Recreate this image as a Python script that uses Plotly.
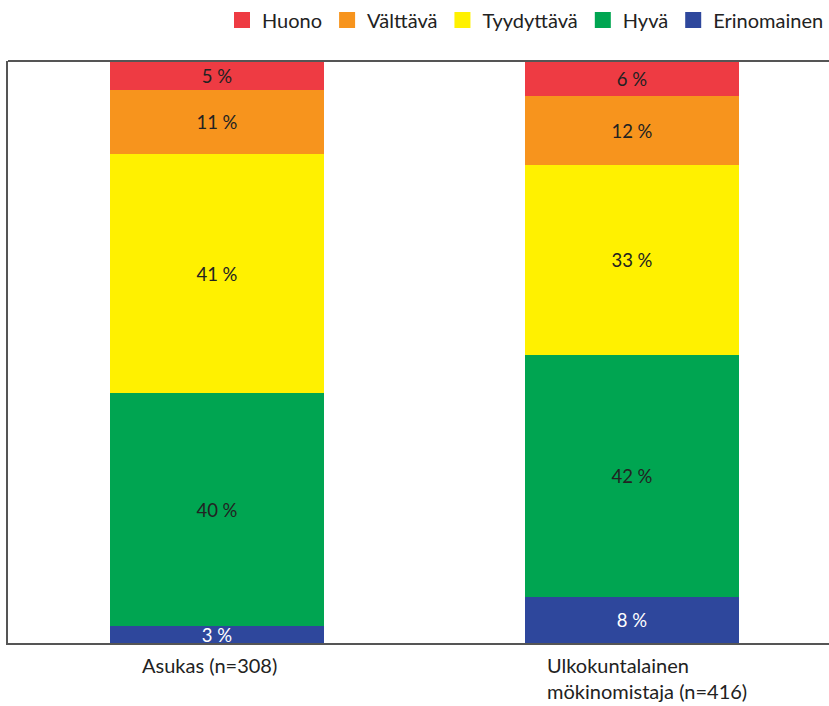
import plotly.graph_objects as go

categories = ["Asukas (n=308)", "Ulkokuntalainen<br>mökinomistaja (n=416)"]
series_names = ["Erinomainen", "Hyvä", "Tyydyttävä", "Välttävä", "Huono"]
erinomainen = [3, 8]
hyva = [40, 42]
tyydyttava = [41, 33]
valttava = [11, 12]
huono = [5, 6]
series_values = [erinomainen, hyva, tyydyttava, valttava, huono]
colors = ["#2E479C", "#00A551", "#FFF100", "#F7941D", "#EE3B43"]
text_colors = ["#FFFFFF", "#222222", "#222222", "#222222", "#222222"]

FONT = "Lato"

fig = go.Figure()
for name, vals, col, tcol in zip(series_names, series_values, colors, text_colors):
    fig.add_trace(go.Bar(
        name=name,
        x=[0, 1],
        y=vals,
        marker=dict(color=col, line=dict(width=0)),
        width=0.515,
        text=[f"{v} %" for v in vals],
        textposition="inside",
        insidetextanchor="middle",
        textangle=0,
        textfont=dict(family=FONT, size=18.5, color=tcol),
        hoverinfo="skip",
        showlegend=False,
    ))

# legend-only entries with larger square swatches
for name, col in zip(series_names, colors):
    fig.add_trace(go.Scatter(
        name=name, x=[None], y=[None], mode="markers",
        marker=dict(symbol="square", size=16, color=col, line=dict(width=0)),
        showlegend=True, hoverinfo="skip",
    ))

fig.update_layout(
    width=829, height=706,
    barmode="stack",
    barnorm="percent",
    bargap=0,
    uniformtext=dict(minsize=18, mode="show"),
    plot_bgcolor="white",
    paper_bgcolor="white",
    margin=dict(l=8, r=0, t=61, b=63, autoexpand=False),
    font=dict(family=FONT, size=16, color="#222222"),
    showlegend=True,
    legend=dict(
        orientation="h",
        traceorder="reversed",
        x=1.0, xanchor="right",
        y=1.104, yanchor="top",
        font=dict(family=FONT, size=20, color="#222222"),
        itemwidth=30,
        itemsizing="trace",
        tracegroupgap=0,
    ),
    xaxis=dict(
        range=[-0.503, 1.473],
        showticklabels=False,
        showgrid=False,
        zeroline=False,
        showline=True,
        linecolor="#555555",
        linewidth=2,
        ticks="",
        fixedrange=True,
    ),
    yaxis=dict(
        range=[0, 100],
        showticklabels=False,
        showgrid=False,
        zeroline=False,
        showline=True,
        linecolor="#555555",
        linewidth=2,
        ticks="",
    ),
)

# top border line (plot frame continues off the right edge)
fig.add_shape(type="line", xref="paper", yref="paper", x0=0, x1=1.05, y0=1, y1=1,
              line=dict(color="#555555", width=2))

# category labels (left-aligned multi-line as in reference)
fig.add_annotation(x=0, y=0, xref="x", yref="paper", yanchor="top", yshift=-8,
                   text=categories[0], showarrow=False, align="center",
                   xshift=-7, font=dict(family=FONT, size=20, color="#222222"))
fig.add_annotation(x=1, y=0, xref="x", yref="paper", yanchor="top", xanchor="left",
                   yshift=-8, text=categories[1], showarrow=False, align="left",
                   xshift=-87, font=dict(family=FONT, size=20, color="#222222"))

fig.write_html("out.html", config={"displayModeBar": False},
               post_script="document.body.style.margin='0px';")
